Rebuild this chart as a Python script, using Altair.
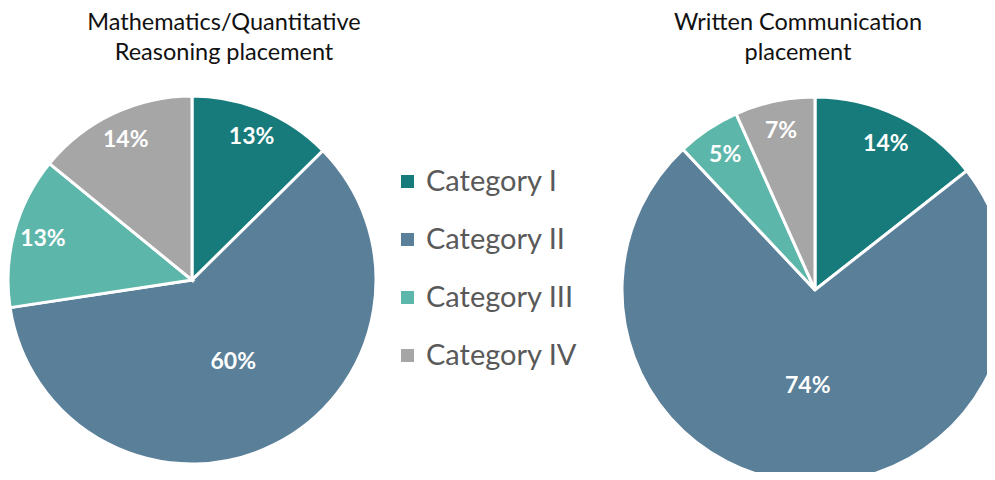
import altair as alt
import pandas as pd

categories = ["Category I", "Category II", "Category III", "Category IV"]
colors = ["#177B7B", "#5A7F99", "#5DB6AA", "#A6A6A6"]
math_values = [12.6, 60.0, 13.3, 14.1]
math_labels = ["13%", "60%", "13%", "14%"]
writing_values = [14.4, 73.6, 5.3, 6.7]
writing_labels = ["14%", "74%", "5%", "7%"]
math_title = ["Mathematics/Quantitative", "Reasoning placement"]
writing_title = ["Written Communication", "placement"]

FONT = "Lato"

def frame(values, labels):
    return pd.DataFrame({
        "category": categories,
        "value": values,
        "label": labels,
        "order": list(range(len(categories))),
    })

color = alt.Color(
    "category:N",
    scale=alt.Scale(domain=categories, range=colors),
    legend=alt.Legend(
        orient="none", legendX=385, legendY=159, title=None,
        symbolType="square", symbolSize=169, symbolStrokeWidth=0,
        labelFontSize=29, labelFont=FONT, labelColor="#595959",
        rowPadding=28, labelOffset=4, padding=0,
    ),
)

def pie(df, cx, cy, r):
    base = alt.Chart(df)
    arcs = base.mark_arc(radius=r, stroke="white", strokeWidth=3).encode(
        theta=alt.Theta("value:Q", stack="normalize"),
        color=color,
        order=alt.Order("order:Q"),
        x=alt.value(cx), y=alt.value(cy),
    )
    texts = base.transform_joinaggregate(
        total="sum(value)"
    ).transform_window(
        cum="sum(value)", sort=[alt.SortField("order")]
    ).transform_calculate(
        mid="(datum.cum - datum.value / 2) / datum.total * 2 * PI",
        lr=f"datum.value > 50 ? {r * 0.5} : {r * 0.84}",
    ).mark_text(font=FONT, fontSize=23, fontWeight="bold", color="white",
                baseline="middle", align="center").encode(
        theta=alt.Theta("mid:Q", scale=None),
        radius=alt.Radius("lr:Q", scale=None),
        text="label:N",
        x=alt.value(cx), y=alt.value(cy),
    )
    return arcs + texts

def title_line(text, cx, cy):
    return alt.Chart(pd.DataFrame({"t": [text]})).mark_text(
        font=FONT, fontSize=23.5, color="#111111",
        baseline="middle", align="center",
    ).encode(text="t:N", x=alt.value(cx), y=alt.value(cy))

chart = alt.layer(
    pie(frame(math_values, math_labels), 184, 272, 184),
    pie(frame(writing_values, writing_labels), 807, 282, 193),
    title_line(math_title[0], 216, 15),
    title_line(math_title[1], 216, 45),
    title_line(writing_title[0], 790, 15),
    title_line(writing_title[1], 790, 45),
).properties(
    width=979, height=464,
    autosize=alt.AutoSizeParams(type="none"),
    padding=0,
).configure_view(stroke=None)

chart.save("out.html", embed_options={"renderer": "svg", "actions": False})
